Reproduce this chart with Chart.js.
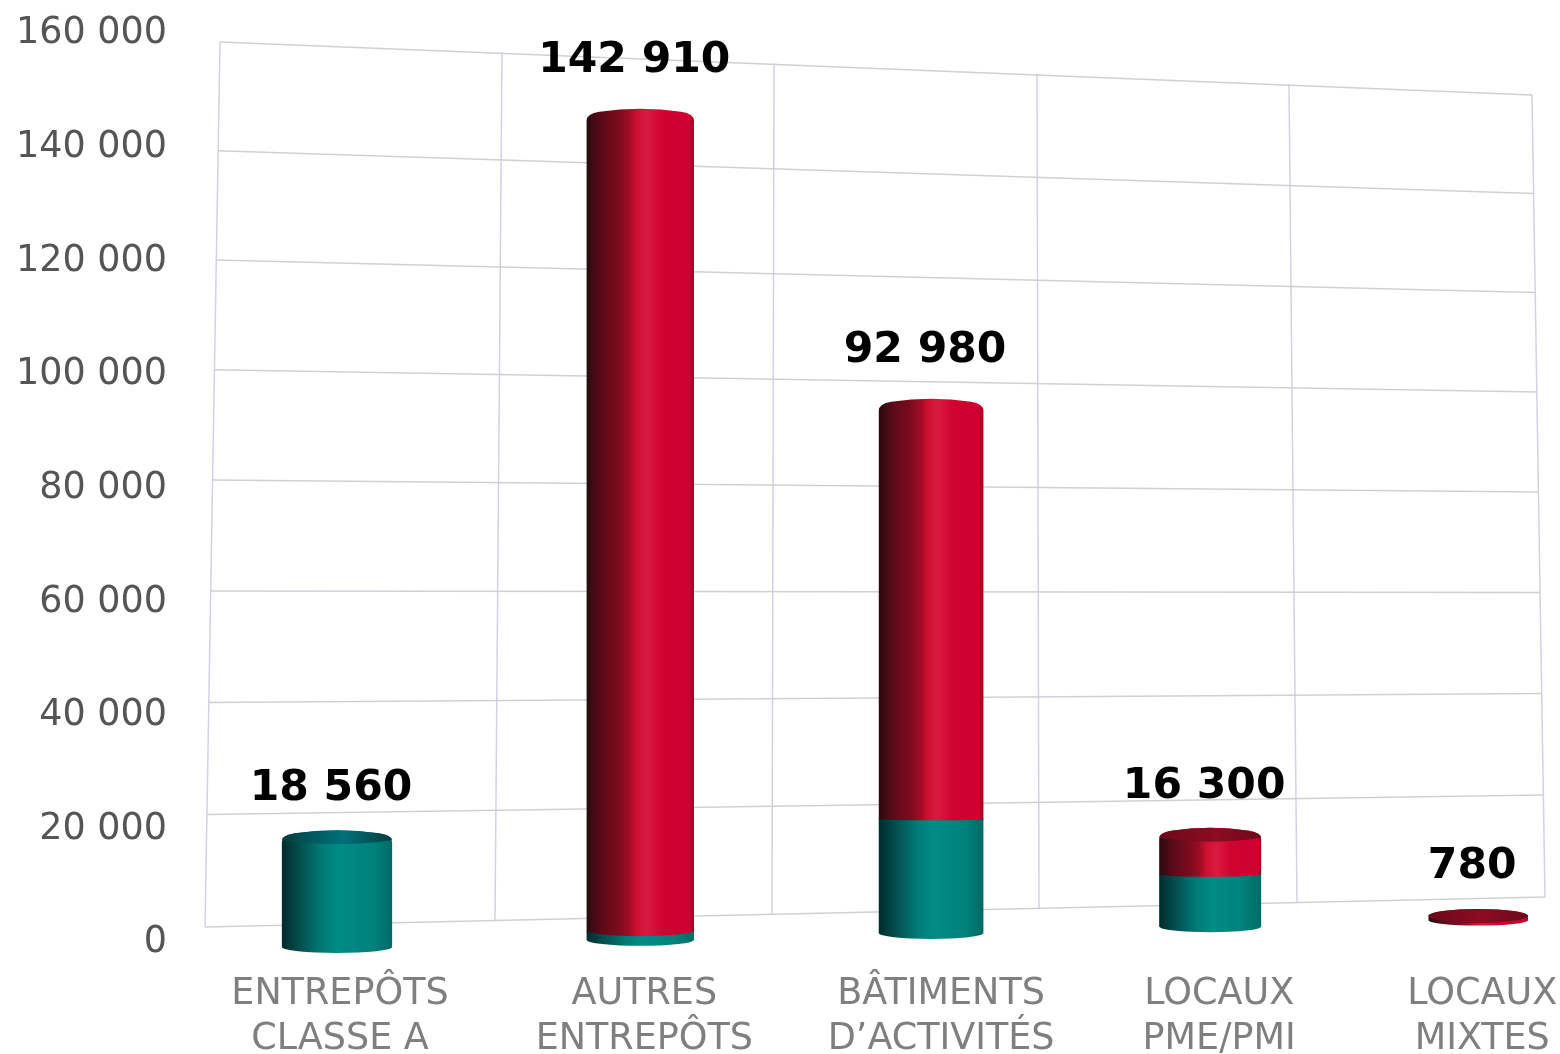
<!DOCTYPE html>
<html>
<head>
<meta charset="utf-8">
<script src="https://cdn.jsdelivr.net/npm/chart.js@4/dist/chart.umd.min.js"></script>
<style>
  body { margin: 0; background: #fff; }
  canvas { display: block; }
</style>
</head>
<body>
<canvas id="barChart" width="1560" height="1054"></canvas>
<script>
const categories = [
  ["ENTREPÔTS", "CLASSE A"],
  ["AUTRES", "ENTREPÔTS"],
  ["BÂTIMENTS", "D’ACTIVITÉS"],
  ["LOCAUX", "PME/PMI"],
  ["LOCAUX", "MIXTES"]
];
const tealValues = [18560, 1500, 20000, 9300, 0];
const redValues = [0, 141410, 72980, 7000, 780];
const totals = [18560, 142910, 92980, 16300, 780];
const yTicks = [0, 20000, 40000, 60000, 80000, 100000, 120000, 140000, 160000];

const FONT = "'DejaVu Sans'";
const tealStops = [[0, "#012b2b"], [0.14, "#034a4a"], [0.36, "#007a75"], [0.52, "#008c85"], [0.82, "#00827b"], [1, "#006a66"]];
const redStops = [[0, "#2b0a10"], [0.14, "#5c0a18"], [0.3, "#7d0b1e"], [0.4, "#a00d25"], [0.46, "#cc1030"], [0.56, "#d91a40"], [0.72, "#cf0230"], [0.96, "#cd0030"], [1, "#9c0020"]];

// the picture is a tilted 3d view: floor rises to the right, far side is a bit smaller
const floorShift = (x) => 8 - 0.0235 * (x - 337);
const depth = (x) => 1.032 - 0.00006 * (x - 337);
const toScreenY = (x, zero, py) => zero + floorShift(x) - (zero - py) * depth(x);
// bottom curves flatten out the higher up they are
const curveRy = (y) => Math.max(1.5, Math.min(6, (y - 812) * 0.05));

// tick labels sit a little right of their bars in the original
const labelNudge = [3, 4, 10, 9, 4];

class PerspectiveCategory extends Chart.CategoryScale {
  static id = "perspectiveCategory";
  getPixelForValue(value) {
    const i = typeof value === "number" ? value : this.parse(value);
    return this.left + this.width * (0.0985 + 0.2312 * i / (1 + 0.02147 * i));
  }
  getPixelForTick(index) {
    return this.getPixelForValue(index) + labelNudge[index];
  }
}

class CylinderBar extends Chart.BarElement {
  static id = "cylinderBar";
  draw(ctx) {
    if (Math.abs(this.base - this.y) < 0.5) return;
    const w = this.width * (1.05 - 0.00009 * (this.x - 337));
    const left = this.x - w / 2;
    const right = this.x + w / 2;
    const top = toScreenY(this.x, this.zeroY, this.y);
    const bottom = toScreenY(this.x, this.zeroY, this.base);
    const flat = bottom - top < 12;

    const grad = ctx.createLinearGradient(left, 0, right, 0);
    this.look.stops.forEach((s) => grad.addColorStop(s[0], s[1]));
    ctx.save();
    ctx.beginPath();
    if (this.covered) {
      // red sits on this one, so the top edge follows the red bottom curve
      // (a touch higher so no white seam shows between them)
      ctx.moveTo(left, top - 1);
      ctx.ellipse(this.x, top - 1, w / 2, curveRy(top), 0, Math.PI, 0, true);
    } else if (flat) {
      ctx.moveTo(left, top);
      ctx.ellipse(this.x, top, w / 2, 7, 0, Math.PI, 2 * Math.PI);
    } else {
      ctx.moveTo(left, top + 4);
      ctx.quadraticCurveTo(left, top - 3, left + w * 0.12, top - 5);
      ctx.quadraticCurveTo(this.x, top - 11, right - w * 0.12, top - 5);
      ctx.quadraticCurveTo(right, top - 3, right, top + 4);
    }
    ctx.lineTo(right, bottom);
    ctx.ellipse(this.x, bottom, w / 2, curveRy(bottom), 0, 0, Math.PI);
    ctx.closePath();
    ctx.fillStyle = grad;
    ctx.fill();

    // short bars are seen from above, so their lid shows
    if (top > 700 && !this.covered) {
      const lid = ctx.createLinearGradient(left, 0, right, 0);
      lid.addColorStop(0, this.look.lidColors[0]);
      lid.addColorStop(0.55, this.look.lidColors[1]);
      lid.addColorStop(1, this.look.lidColors[0]);
      ctx.beginPath();
      if (flat) {
        ctx.ellipse(this.x, top, w / 2, 7, 0, 0, 2 * Math.PI);
      } else {
        ctx.moveTo(left, top + 2);
        ctx.quadraticCurveTo(left, top - 3, left + w * 0.12, top - 5);
        ctx.quadraticCurveTo(this.x, top - 11, right - w * 0.12, top - 5);
        ctx.quadraticCurveTo(right, top - 3, right, top + 2);
        ctx.quadraticCurveTo(this.x, top + 10, left, top + 2);
      }
      ctx.fillStyle = lid;
      ctx.fill();
    }
    ctx.restore();
  }
}

class CylinderController extends Chart.BarController {
  static id = "cylinder";
  static defaults = { ...Chart.BarController.defaults, dataElementType: "cylinderBar" };
  static overrides = Chart.BarController.overrides;
  draw() {
    const meta = this.getMeta();
    const zero = meta.vScale.getPixelForValue(0);
    const look = this.getDataset();
    const above = this.chart.data.datasets[this.index + 1];
    meta.data.forEach((el, i) => {
      el.zeroY = zero;
      el.look = look;
      el.covered = !!above && above.data[i] > 0;
    });
    super.draw();
  }
}

Chart.register(PerspectiveCategory, CylinderBar, CylinderController);

// corners of the back wall, the grid is stretched between them
const wall = { leftBottom: [205, 927], leftTop: [220, 42], rightBottom: [1545, 897], rightTop: [1532, 95] };
const verticalsTop = [220, 502, 774, 1037, 1289, 1532];
const verticalsBottom = [205, 495, 772, 1039, 1297, 1545];

const wallGrid = {
  id: "wallGrid",
  beforeDatasetsDraw(chart) {
    const { ctx, scales } = chart;
    const yScale = scales.y;
    const h = yScale.getPixelForValue(0) - yScale.getPixelForValue(160000);
    ctx.save();
    ctx.lineWidth = 1.5;
    ctx.strokeStyle = "#d2d2e6";
    verticalsTop.forEach((x, i) => {
      const t = i / (verticalsTop.length - 1);
      const y0 = wall.leftTop[1] + (wall.rightTop[1] - wall.leftTop[1]) * t;
      const y1 = wall.leftBottom[1] + (wall.rightBottom[1] - wall.leftBottom[1]) * t;
      ctx.beginPath();
      ctx.moveTo(x, y0);
      ctx.lineTo(verticalsBottom[i], y1);
      ctx.stroke();
    });
    ctx.strokeStyle = "#cfcfd6";
    yScale.ticks.forEach((tick) => {
      let f = (yScale.getPixelForValue(0) - yScale.getPixelForValue(tick.value)) / h;
      f = f * 1.02 / (1 + 0.02 * f);
      ctx.beginPath();
      ctx.moveTo(wall.leftBottom[0] + (wall.leftTop[0] - wall.leftBottom[0]) * f, wall.leftBottom[1] + (wall.leftTop[1] - wall.leftBottom[1]) * f);
      ctx.lineTo(wall.rightBottom[0] + (wall.rightTop[0] - wall.rightBottom[0]) * f, wall.rightBottom[1] + (wall.rightTop[1] - wall.rightBottom[1]) * f);
      ctx.stroke();
    });
    ctx.restore();
  }
};

const totalLabels = {
  id: "totalLabels",
  afterDatasetsDraw(chart) {
    const { ctx, scales } = chart;
    const zero = scales.y.getPixelForValue(0);
    ctx.save();
    ctx.font = "bold 42.5px " + FONT;
    ctx.fillStyle = "#000";
    ctx.textAlign = "center";
    ctx.textBaseline = "middle";
    totals.forEach((total, i) => {
      const x = scales.x.getPixelForValue(i);
      const top = toScreenY(x, zero, scales.y.getPixelForValue(total));
      const gap = top > 700 ? 49 : 56;
      ctx.fillText(String(total).replace(/\B(?=(\d{3})+$)/g, " "), x - 6, top - gap);
    });
    ctx.restore();
  }
};

new Chart(document.getElementById("barChart"), {
  type: "cylinder",
  data: {
    labels: categories,
    datasets: [
      { label: "Teal", data: tealValues, backgroundColor: "#008f88", stops: tealStops, lidColors: ["#023f3f", "#02707a"], barThickness: 105, clip: false },
      { label: "Red", data: redValues, backgroundColor: "#cf0230", stops: redStops, lidColors: ["#6a0a1a", "#8c0c22"], barThickness: 105, clip: false }
    ]
  },
  plugins: [wallGrid, totalLabels],
  options: {
    responsive: false,
    animation: false,
    layout: { padding: { top: 30, right: 15 } },
    plugins: { legend: { display: false }, tooltip: { enabled: false } },
    scales: {
      x: {
        type: "perspectiveCategory",
        stacked: true,
        border: { display: false },
        grid: { display: false },
        afterFit(scale) {
          scale.paddingLeft = 0;
          scale.paddingRight = 0;
          scale.height = 115;
        },
        ticks: {
          autoSkip: false,
          maxRotation: 0,
          padding: 25,
          color: "#7f7f7f",
          font: { family: FONT, size: 36.5, lineHeight: 1.24 }
        }
      },
      y: {
        stacked: true,
        min: 0,
        max: 160000,
        border: { display: false },
        grid: { display: false, drawTicks: false },
        afterBuildTicks(scale) {
          scale.ticks = yTicks.map((value) => ({ value }));
        },
        afterFit(scale) {
          scale.width = 205;
          scale.paddingTop = 0;
          scale.paddingBottom = 0;
        },
        ticks: {
          padding: 38,
          labelOffset: 4,
          color: "#555555",
          font: { family: FONT, size: 36.5 },
          callback: (v) => String(v).replace(/\B(?=(\d{3})+$)/g, " ")
        }
      }
    }
  }
});
</script>
</body>
</html>
